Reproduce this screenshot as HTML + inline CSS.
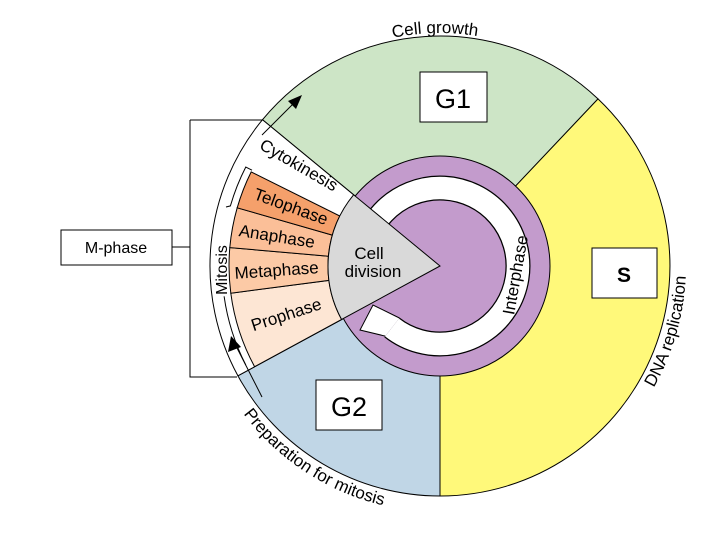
<!DOCTYPE html>
<html><head><meta charset="utf-8"><style>
html,body{margin:0;padding:0;background:#fff;}
svg{display:block;font-family:"Liberation Sans",Arial,sans-serif;}
</style></head><body>
<svg width="720" height="540" viewBox="0 0 720 540" xmlns="http://www.w3.org/2000/svg">
<defs>
<path id="pCG" d="M360.3,47.1 A233 233 0 0 1 519.7,47.1"/>
<path id="pDNA" d="M628.4,424.1 A246 246 0 0 0 628.4,107.9"/>
<path id="pPrep" d="M208.8,350.1 A246 246 0 0 0 482.7,508.3"/>
</defs>
<g stroke="#000" stroke-width="1">
<path d="M440,266 L262.5,119.7 A230 230 0 0 1 598,98.9 Z" fill="#cde5c6"/>
<path d="M440,266 L598,98.9 A230 230 0 0 1 440,496 Z" fill="#fff97a"/>
<path d="M440,266 L440,496 A230 230 0 0 1 237.9,375.8 Z" fill="#c0d6e6"/>
<path d="M440,266 L237.9,375.8 A230 230 0 0 1 262.5,119.7 Z" fill="#fff"/>
<circle cx="440" cy="266" r="110" fill="#c39bcc"/>
<path d="M254.6,366.7 A211 211 0 0 1 230.8,293.2 L328.9,280.4 A112 112 0 0 0 341.6,319.5 Z" fill="#fde6d4"/>
<path d="M230.8,293.2 A211 211 0 0 1 229.8,247.6 L328.4,256.2 A112 112 0 0 0 328.9,280.4 Z" fill="#fccaa6"/>
<path d="M229.8,247.6 A211 211 0 0 1 237.2,207.8 L332.3,235.1 A112 112 0 0 0 328.4,256.2 Z" fill="#fbbf98"/>
<path d="M237.2,207.8 A211 211 0 0 1 251.2,171.9 L339.8,216 A112 112 0 0 0 332.3,235.1 Z" fill="#f5a06b"/>
</g>
<!-- white arrow ring -->
<path d="M366.7,239.3 A78 78 0 1 1 392,327.5" fill="none" stroke="#000" stroke-width="25"/>
<path d="M366.7,239.3 A78 78 0 1 1 392,327.5" fill="none" stroke="#fff" stroke-width="22.5"/>
<path d="M399.4,318 L373,305 L360,330 L385.2,336.1" fill="#fff" stroke="#000" stroke-width="1"/>
<!-- grey wedge -->
<path d="M440,266 L353.6,194.8 A112 112 0 0 0 341.6,319.5 Z" fill="#d9d9d9" stroke="#000" stroke-width="1"/>
<!-- mitosis bracket -->
<g fill="none" stroke="#000" stroke-width="1">
<path d="M252,170.2 L245.8,167 A218 218 0 0 0 230.4,205.9 L226,207"/>
<path d="M245.8,365 A218 218 0 0 1 224.1,296.3"/>
<path d="M190,120 L262,120 M190,120 L190,377 L237,377 M172,247 L190,247"/>
<path d="M262,135 L294,103"/>
<path d="M262,397 L236,346"/>
</g>
<path d="M302,95 L288,101 L296,109 Z" fill="#000"/>
<path d="M231,336 L228,352 L241,347 Z" fill="#000"/>
<!-- boxes -->
<g fill="#fff" stroke="#000" stroke-width="1">
<rect x="61" y="230" width="111" height="35"/>
<rect x="420" y="72" width="67" height="50"/>
<rect x="316" y="380" width="66" height="50"/>
<rect x="592" y="248" width="65" height="50"/>
</g>
<g fill="#000">
<text x="116" y="253" font-size="16" text-anchor="middle">M-phase</text>
<text x="453" y="108" font-size="27" text-anchor="middle">G1</text>
<text x="349" y="416" font-size="27" text-anchor="middle">G2</text>
<text x="624" y="282" font-size="21" font-weight="bold" text-anchor="middle">S</text>
<text x="369" y="259" font-size="17" text-anchor="middle">Cell</text>
<text x="373" y="277" font-size="17" text-anchor="middle">division</text>
<text font-size="17" text-anchor="middle" transform="translate(296,170) rotate(30)">Cytokinesis</text>
<text font-size="17" text-anchor="middle" transform="translate(289,212) rotate(20)">Telophase</text>
<text font-size="17" text-anchor="middle" transform="translate(276,242) rotate(9)">Anaphase</text>
<text font-size="17" text-anchor="middle" transform="translate(277,276) rotate(-4)">Metaphase</text>
<text font-size="17" text-anchor="middle" transform="translate(288,320) rotate(-18)">Prophase</text>
<text font-size="16" text-anchor="middle" transform="translate(227,270) rotate(-90)">Mitosis</text>
<text font-size="17" text-anchor="middle" transform="translate(521,276) rotate(-80)">Interphase</text>
<text font-size="17"><textPath href="#pCG" startOffset="47%" text-anchor="middle">Cell growth</textPath></text>
<text font-size="17"><textPath href="#pDNA" startOffset="30%" text-anchor="middle">DNA replication</textPath></text>
<text font-size="17"><textPath href="#pPrep" startOffset="46%" text-anchor="middle">Preparation for mitosis</textPath></text>
</g>
</svg>
</body></html>
